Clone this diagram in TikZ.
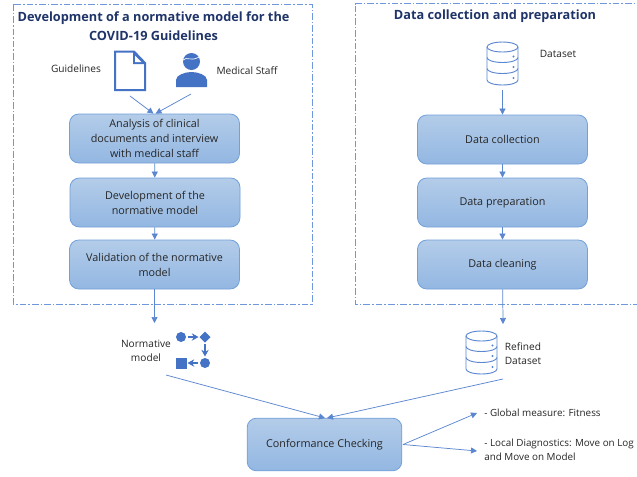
\documentclass[tikz,border=0pt]{standalone}
\usepackage{fontspec}
\setmainfont{Open Sans}
\usetikzlibrary{arrows.meta,calc}
\definecolor{iconblue}{HTML}{4472C4}
\definecolor{linkblue}{HTML}{5B86D0}
\definecolor{dashblue}{HTML}{6F97DC}
\definecolor{boxedge}{HTML}{72A0D8}
\definecolor{boxtop}{HTML}{B3CCE9}
\definecolor{boxbot}{HTML}{93B7E2}
\definecolor{titleblue}{HTML}{1F3468}
\definecolor{textgrey}{HTML}{262626}
\tikzset{
  stepbox/.style={draw=boxedge,line width=0.6pt,rounded corners=7pt,top color=boxtop,bottom color=boxbot,
    align=center,text=textgrey,font=\fontsize{8.1pt}{11.2pt}\selectfont,inner sep=0pt,minimum height=36.75pt},
  frame/.style={draw=dashblue,line width=0.55pt,dash pattern=on 5pt off 1.5pt on 1.2pt off 1.5pt},
  link/.style={draw=linkblue,line width=0.55pt,-{Triangle[length=4.5pt,width=4.5pt]}},
  lbl/.style={text=textgrey,font=\fontsize{7.6pt}{10.5pt}\selectfont,align=center,inner sep=0pt},
  lbll/.style={lbl,align=left,anchor=west,font=\fontsize{7.4pt}{10.5pt}\selectfont},
  ttl/.style={text=titleblue,font=\fontsize{9.55pt}{14pt}\selectfont\bfseries,align=center,inner sep=0pt},
  cyl/.style={draw=linkblue,line width=0.7pt,fill=white},
}
\newcommand{\dbicon}[2]{%
  \begin{scope}[shift={(#1,#2)}]
    \draw[cyl] (-15.5,-16.5) -- (-15.5,16.5) arc[start angle=180,end angle=0,x radius=15.5,y radius=5]
       -- (15.5,-16.5) arc[start angle=0,end angle=-180,x radius=15.5,y radius=5];
    \draw[cyl,fill=none] (-15.5,-16.5) arc[start angle=180,end angle=0,x radius=15.5,y radius=5];
    \draw[cyl,fill=none] (-15.5,-6) arc[start angle=180,end angle=0,x radius=15.5,y radius=5];
    \draw[cyl,fill=none] (-15.5,5) arc[start angle=180,end angle=0,x radius=15.5,y radius=5];
    \fill[linkblue] (11,-7) circle (1.1) (11,3.5) circle (1.1) (11,14.5) circle (1.1);
  \end{scope}}
\begin{document}
\begin{tikzpicture}[x=0.75pt,y=-0.75pt]
\useasboundingbox (0,0) rectangle (637,476);
\fill[white] (0,0) rectangle (637,476);
% frames
\draw[frame] (13,4) rectangle (312,304);
\draw[frame] (355,3.5) -- (640,3.5) (640,304) -- (355,304) -- (355,3.5);
% titles
\node[ttl] (t1) at (153.5,26.5) {Development of a normative model for the\\COVID-19 Guidelines};
\node[ttl] (t2) at (495,16) {Data collection and preparation};
% boxes
\node[stepbox,minimum width=127.5pt] (a) at (154.5,138.5) {Analysis of clinical\\documents and interview\\with medical staff};
\node[stepbox,minimum width=127.5pt] (b) at (155,202.5) {Development of the\\normative model};
\node[stepbox,minimum width=127.5pt] (c) at (154.5,264.5) {Validation of the normative\\model};
\node[stepbox,minimum width=127.5pt] (d) at (502.5,139.5) {Data collection};
\node[stepbox,minimum width=127.5pt] (e) at (502.5,202.5) {Data preparation};
\node[stepbox,minimum width=127.5pt] (f) at (502.5,264.5) {Data cleaning};
\node[stepbox,minimum width=116pt,minimum height=39.5pt] (g) at (324.5,444.5) {Conformance Checking};
% labels
\node[lbl] (l1) at (76,69) {Guidelines};
\node[lbl] (l2) at (247,70.5) {Medical Staff};
\node[lbl] (l3) at (558,53.5) {Dataset};
\node[lbl] (l4) at (146,351) {Normative\\model};
\node[lbl] (l5) at (523,354) {Refined\\Dataset};
\node[lbll] (l6) at (484,413) {- Global measure: Fitness};
\node[lbll,anchor=north west] (l7) at (484,439) {- Local Diagnostics: Move on Log\\and Move on Model};
% document icon
\draw[iconblue,line width=1.5pt,line join=miter] (115,51.5) -- (134,51.5) -- (145,63) -- (145,90) -- (115,90) -- cycle;
\fill[iconblue] (133,51) -- (146,64) -- (133,64) -- cycle;
\fill[white] (135,55.5) -- (141.5,62) -- (135,62) -- cycle;
% person icon
\fill[iconblue] (176,87) -- (176,80) .. controls (176,75) and (185,72) .. (191.5,72) .. controls (198,72) and (207,75) .. (207,80) -- (207,87) -- cycle;
\fill[iconblue] (191.5,61.5) circle (8.5);
\draw[white,line width=0.5pt] (183,60) .. controls (187,56) and (191,62) .. (199,57);
% process icon
\fill[iconblue] (181,337) circle (5);
\fill[iconblue] (205,331.5) -- (210.5,337) -- (205,342.5) -- (199.5,337) -- cycle;
\fill[iconblue] (205,363) circle (5);
\fill[iconblue] (176,358) rectangle (186.5,368.5);
\draw[iconblue,line width=1.3pt,-{Stealth[length=5pt,width=5.5pt]}] (188,337) -- (198.5,337);
\draw[iconblue,line width=1.3pt,-{Stealth[length=5pt,width=5.5pt]}] (205,344) -- (205,356.5);
\draw[iconblue,line width=1.3pt,-{Stealth[length=5pt,width=5.5pt]}] (198,363) -- (187.5,363);
% databases
\dbicon{502.5}{63.5}
\dbicon{481.5}{352.5}
% free ends
\coordinate (s1) at (130,96);
\coordinate (s2) at (191,94);
\coordinate (s3) at (502.5,90);
\coordinate (n1) at (154.5,323);
\coordinate (n2) at (503,324);
\coordinate (n3) at (166,375);
\coordinate (n4) at (503,379);
\coordinate (m1) at (477,413);
\coordinate (m2) at (477,451);
\coordinate (gin) at (326,418);
\coordinate (gout) at (403,444.5);
% connectors
\draw[link] (s1) -- ($(a.north)+(-1,0)$);
\draw[link] (s2) -- ($(a.north)+(1,0)$);
\draw[link] (a) -- (b);
\draw[link] (b) -- (c);
\draw[link] (c) -- (n1);
\draw[link] (s3) -- (d);
\draw[link] (d) -- (e);
\draw[link] (e) -- (f);
\draw[link] (f) -- (n2);
\draw[link] (n3) -- ($(gin)+(-1,0)$);
\draw[link] (n4) -- ($(gin)+(1,0)$);
\draw[link] (gout) -- (m1);
\draw[link] (gout) -- (m2);
\end{tikzpicture}
\end{document}
